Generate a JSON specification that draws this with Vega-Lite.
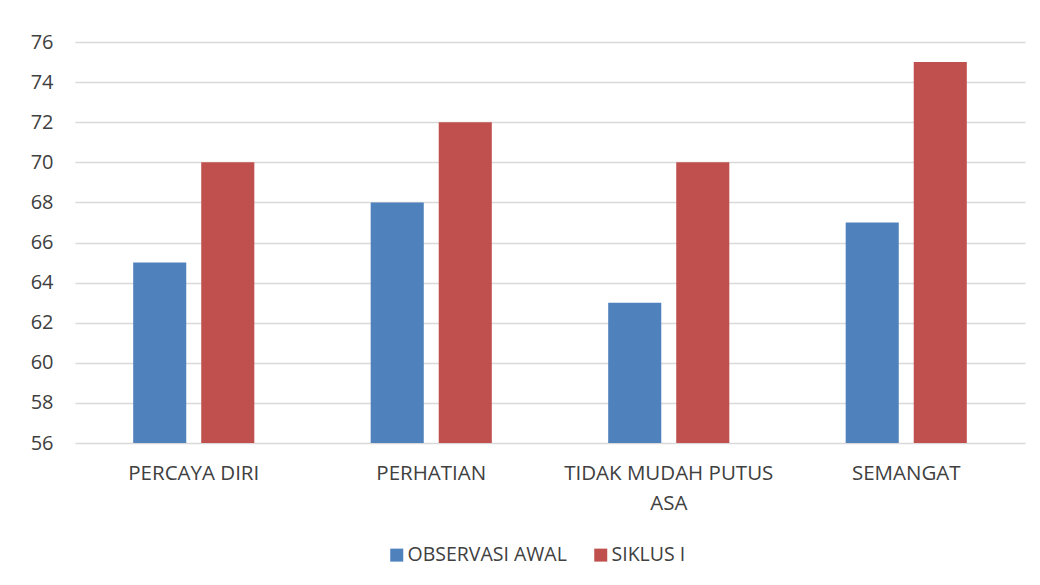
{
  "$schema": "https://vega.github.io/schema/vega-lite/v6.json",
  "autosize": "none",
  "width": 950,
  "height": 401,
  "padding": {"left": 75, "top": 42, "right": 15, "bottom": 142},
  "background": "white",
  "config": {
    "view": {"stroke": null},
    "font": "Open Sans"
  },
  "data": {
    "values": [
      {"kategori": "PERCAYA DIRI", "seri": "OBSERVASI AWAL", "nilai": 65},
      {"kategori": "PERCAYA DIRI", "seri": "SIKLUS I", "nilai": 70},
      {"kategori": "PERHATIAN", "seri": "OBSERVASI AWAL", "nilai": 68},
      {"kategori": "PERHATIAN", "seri": "SIKLUS I", "nilai": 72},
      {"kategori": "TIDAK MUDAH PUTUS ASA", "seri": "OBSERVASI AWAL", "nilai": 63},
      {"kategori": "TIDAK MUDAH PUTUS ASA", "seri": "SIKLUS I", "nilai": 70},
      {"kategori": "SEMANGAT", "seri": "OBSERVASI AWAL", "nilai": 67},
      {"kategori": "SEMANGAT", "seri": "SIKLUS I", "nilai": 75}
    ]
  },
  "mark": {"type": "bar", "clip": true},
  "encoding": {
    "x": {
      "field": "kategori",
      "type": "nominal",
      "sort": null,
      "scale": {"paddingInner": 0.49, "paddingOuter": 0.245},
      "axis": {
        "title": null,
        "labelAngle": 0,
        "domain": false,
        "ticks": false,
        "labelPadding": 20,
        "labelFontSize": 20.5,
        "labelColor": "#404040",
        "labelFont": "Open Sans",
        "labelLineHeight": 30,
        "labelBaseline": "top",
        "labelLimit": 0,
        "labelExpr": "datum.label == 'TIDAK MUDAH PUTUS ASA' ? ['TIDAK MUDAH PUTUS', 'ASA'] : datum.label"
      }
    },
    "xOffset": {
      "field": "seri",
      "type": "nominal",
      "sort": ["OBSERVASI AWAL", "SIKLUS I"],
      "scale": {"paddingInner": 0.22, "paddingOuter": 0}
    },
    "y": {
      "field": "nilai",
      "type": "quantitative",
      "scale": {"domain": [56, 76], "zero": false, "nice": false},
      "axis": {
        "title": null,
        "values": [56, 58, 60, 62, 64, 66, 68, 70, 72, 74, 76],
        "domain": false,
        "ticks": false,
        "labelPadding": 22,
        "labelFontSize": 20,
        "labelColor": "#404040",
        "labelFont": "Open Sans",
        "gridColor": "#d9d9d9",
        "gridWidth": 1.5
      }
    },
    "color": {
      "field": "seri",
      "type": "nominal",
      "scale": {"domain": ["OBSERVASI AWAL", "SIKLUS I"], "range": ["#4f81bd", "#c0504d"]},
      "legend": {
        "title": null,
        "orient": "none",
        "direction": "horizontal",
        "legendX": 312,
        "legendY": 503,
        "symbolType": "square",
        "symbolSize": 169,
        "symbolStrokeWidth": 0,
        "labelFontSize": 19.5,
        "labelColor": "#404040",
        "labelFont": "Open Sans",
        "labelOffset": 1,
        "labelLimit": 0,
        "columnPadding": 24
      }
    }
  }
}
